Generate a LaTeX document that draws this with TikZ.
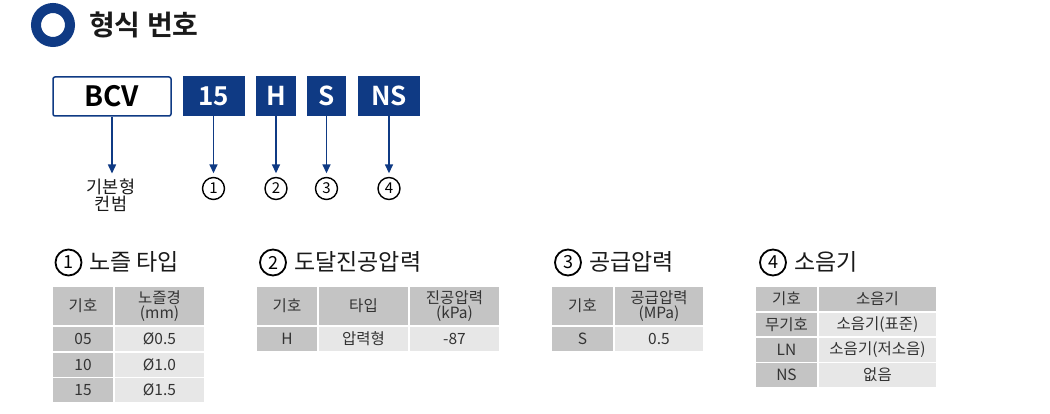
\documentclass[tikz,border=0pt]{standalone}
\usepackage{fontspec}
\setmainfont{Noto Sans CJK KR}[BoldFont={Noto Sans CJK KR Bold}]
\usetikzlibrary{arrows.meta}
\definecolor{brandblue}{HTML}{0F3A84}
\definecolor{titlecol}{HTML}{1A1A1A}
\definecolor{tabtext}{HTML}{333333}
\definecolor{cellgray}{HTML}{C4C4C4}
\definecolor{celllight}{HTML}{E7E7E7}
\tikzset{
  bcvbox/.style={draw=brandblue, line width=1.5pt, rounded corners=2pt, fill=white,
    minimum width=118pt, minimum height=39pt, inner sep=0pt,
    font=\bfseries\fontsize{28}{28}\selectfont, text=black},
  codebox/.style={fill=brandblue, minimum height=40pt, inner sep=0pt,
    font=\bfseries\fontsize{26}{26}\selectfont, text=white},
  arr/.style={draw=brandblue, line width=1.5pt, -{Triangle[length=9pt,width=8pt]}, shorten >=3.5pt},
  arrlab/.style={draw=brandblue, line width=1.5pt, -{Triangle[length=9pt,width=8pt]}},
  topnum/.style={circle, draw=black, line width=1.4pt, minimum size=22pt, inner sep=0pt,
    font=\fontsize{15}{15}\selectfont, text=black},
  secnum/.style={circle, draw=black, line width=1.8pt, minimum size=26pt, inner sep=0pt,
    font=\fontsize{18}{18}\selectfont, text=black},
  sectitle/.style={anchor=west, inner sep=0pt, font=\fontsize{23}{23}\selectfont, text=titlecol},
  cellstyle/.style={inner sep=0pt, align=center, text=tabtext,
    font=\fontsize{15.5}{14.5}\selectfont},
}
\newcommand{\mkcell}[7]{%
  \node[cellstyle, fill=#2, minimum width={(#5-#3)*1pt}, minimum height={(#6-#4)*1pt}]
    (#1) at ({(#3+#5)/2},{(#4+#6)/2}) {#7};}
\begin{document}
\begin{tikzpicture}[x=1pt,y=-1pt]
\useasboundingbox[fill=white] (0,0) rectangle (1050,414);

% heading
\node[circle, draw=brandblue, line width=10pt, minimum size=34pt, inner sep=0pt] (ring) at (53,25) {};
\node[anchor=west, inner sep=0pt, font=\bfseries\fontsize{28}{28}\selectfont, text=titlecol] (title) at (89,24.5) {형식 번호};

% code boxes
\node[bcvbox] (bcv) at (112,96.5) {BCV};
\node[codebox, minimum width=62pt] (c15) at (213.5,96) {15};
\node[codebox, minimum width=40pt] (cH) at (276,96) {H};
\node[codebox, minimum width=39pt] (cS) at (326.5,96) {S};
\node[codebox, minimum width=62pt] (cNS) at (389,96) {NS};

% labels under boxes
\node[inner sep=0pt, align=center, text=titlecol, font=\fontsize{17.5}{17.5}\selectfont, anchor=north] (base) at (111,178.5) {기본형\\컨범};
\coordinate (basetip) at (112,173.5);
\node[topnum] (n1) at (213.5,188.5) {1};
\node[topnum] (n2) at (276,188.5) {2};
\node[topnum] (n3) at (326.5,188.5) {3};
\node[topnum] (n4) at (389,188.5) {4};

\draw[arrlab] (bcv.south) -- (basetip);
\draw[arr] (c15.south) -- (n1.north);
\draw[arr] (cH.south) -- (n2.north);
\draw[arr] (cS.south) -- (n3.north);
\draw[arr] (cNS.south) -- (n4.north);

% section titles
\node[secnum] (s1) at (68.5,262.5) {1};
\node[sectitle] (t1) at (89,262) {노즐 타입};
\node[secnum] (s2) at (273,262.5) {2};
\node[sectitle] (t2) at (294,262) {도달진공압력};
\node[secnum] (s3) at (568,262.5) {3};
\node[sectitle] (t3) at (589,262) {공급압력};
\node[secnum] (s4) at (773,262.5) {4};
\node[sectitle] (t4) at (794,262) {소음기};

% table 1
\mkcell{a00}{cellgray}{53}{287}{113}{325}{기호}
\mkcell{a01}{cellgray}{115}{287}{204}{325}{노즐경\\(mm)}
\mkcell{a10}{cellgray}{53}{327}{113}{351}{05}
\mkcell{a11}{celllight}{115}{327}{204}{351}{Ø0.5}
\mkcell{a20}{cellgray}{53}{352.5}{113}{376.5}{10}
\mkcell{a21}{celllight}{115}{352.5}{204}{376.5}{Ø1.0}
\mkcell{a30}{cellgray}{53}{378}{113}{402}{15}
\mkcell{a31}{celllight}{115}{378}{204}{402}{Ø1.5}

% table 2
\mkcell{b00}{cellgray}{257}{287}{317}{325}{기호}
\mkcell{b01}{cellgray}{319}{287}{408}{325}{타입}
\mkcell{b02}{cellgray}{410}{287}{499}{325}{진공압력\\(kPa)}
\mkcell{b10}{cellgray}{257}{327}{317}{351}{H}
\mkcell{b11}{celllight}{319}{327}{408}{351}{압력형}
\mkcell{b12}{celllight}{410}{327}{499}{351}{-87}

% table 3
\mkcell{c00}{cellgray}{552}{287}{613}{325}{기호}
\mkcell{c01}{cellgray}{615}{287}{703}{325}{공급압력\\(MPa)}
\mkcell{c10}{cellgray}{552}{327}{613}{351}{S}
\mkcell{c11}{celllight}{615}{327}{703}{351}{0.5}

% table 4
\mkcell{d00}{cellgray}{756}{287}{817}{311}{기호}
\mkcell{d01}{cellgray}{819}{287}{936}{311}{소음기}
\mkcell{d10}{cellgray}{756}{312.5}{817}{336}{무기호}
\mkcell{d11}{celllight}{819}{312.5}{936}{336}{소음기(표준)}
\mkcell{d20}{cellgray}{756}{337.5}{817}{361.5}{LN}
\mkcell{d21}{celllight}{819}{337.5}{936}{361.5}{소음기(저소음)}
\mkcell{d30}{cellgray}{756}{363}{817}{387}{NS}
\mkcell{d31}{celllight}{819}{363}{936}{387}{없음}
\end{tikzpicture}
\end{document}
